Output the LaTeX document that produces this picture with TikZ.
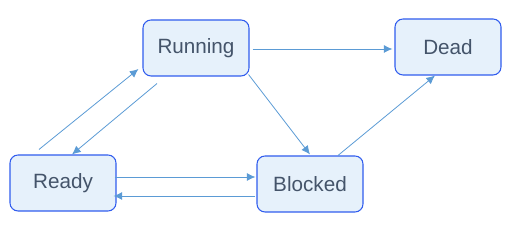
\documentclass[tikz,border=0pt]{standalone}
\usepackage{fontspec}
\setmainfont{Liberation Sans}
\usetikzlibrary{arrows.meta,positioning}
\definecolor{stateborder}{RGB}{48,92,238}
\definecolor{statefill}{RGB}{230,241,251}
\definecolor{statetext}{RGB}{68,84,106}
\definecolor{flowblue}{RGB}{91,155,213}

\begin{document}
\begin{tikzpicture}[
    x=0.75pt, y=0.75pt,
    state/.style={rectangle, draw=stateborder, fill=statefill, minimum width=79.5pt, minimum height=42pt, rounded corners=6pt, line width=0.8pt, text=statetext, font=\fontsize{15.5}{18}\selectfont},
    arrow/.style={-{Latex[length=6.5pt, width=6pt]}, draw=flowblue, line width=0.6pt}
  ]
    \useasboundingbox (0,0) rectangle (514,231);

    % States
    \node[state] (running) at (196, 183) {Running};
    \node[state] (dead) at (448, 184) {Dead};
    \node[state] (ready) at (63, 48) {Ready};
    \node[state] (blocked) at (310, 47) {Blocked};

    % Transitions
    \draw[arrow] ([shift={(-24,5)}]ready.north) -- ([shift={(-4,-21)}]running.west);
    \draw[arrow] ([shift={(-39,-7)}]running.south) -- ([shift={(9,0)}]ready.north);
    \draw[arrow] ([shift={(3,-1)}]running.east) -- ([shift={(-2,-2)}]dead.west);
    \draw[arrow] ([shift={(-1,2)}]running.south east) -- ([shift={(0,1)}]blocked.north);
    \draw[arrow] ([shift={(28,0)}]blocked.north) -- ([shift={(-13,0)}]dead.south);
    \draw[arrow] ([shift={(-2,6)}]ready.east) -- ([shift={(-1,7)}]blocked.west);
    \draw[arrow] ([shift={(-1,-12)}]blocked.west) -- ([shift={(-3,-13)}]ready.east);
  \end{tikzpicture}
\end{document}
